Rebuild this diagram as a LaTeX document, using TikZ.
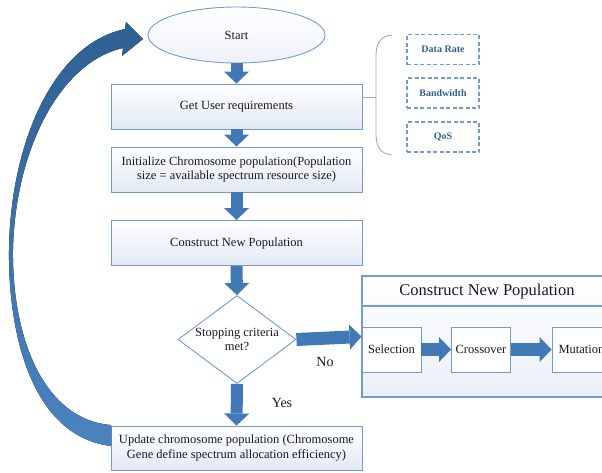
\documentclass[tikz,border=0pt]{standalone}
\usepackage{fontspec}
\setmainfont{Liberation Serif}
\usetikzlibrary{shapes.geometric,arrows.meta}
\definecolor{flowblue}{RGB}{64,121,181}
\definecolor{edgeblue}{RGB}{112,156,208}
\definecolor{paleblue}{RGB}{226,233,244}
\definecolor{tagblue}{RGB}{47,95,145}
\definecolor{bracegray}{RGB}{165,165,165}
\definecolor{loopdark}{RGB}{46,96,146}
\definecolor{looplight}{RGB}{74,132,192}
\definecolor{inktext}{RGB}{25,25,35}
\begin{document}
\begin{tikzpicture}[x=1pt,y=-1pt,
  font=\fontsize{12.5}{14.5}\selectfont, text=inktext,
  proc/.style={draw=edgeblue, line width=0.9pt, top color=white, bottom color=paleblue,
    minimum width=251pt, minimum height=45pt, align=center, inner sep=2pt},
  startell/.style={ellipse, draw=edgeblue, line width=0.9pt, top color=white, bottom color=paleblue!60,
    minimum width=177pt, minimum height=56pt, inner sep=0pt},
  decision/.style={diamond, draw=edgeblue, line width=0.9pt, fill=white,
    minimum width=118pt, minimum height=88pt, inner sep=0pt},
  stage/.style={draw=edgeblue, line width=0.9pt, fill=white,
    minimum width=59pt, minimum height=45pt, inner sep=1pt},
  tag/.style={draw=edgeblue, dash pattern=on 4pt off 2.5pt, line width=1.1pt,
    minimum width=72pt, minimum height=30pt, inner sep=1pt,
    font=\fontsize{10}{12}\selectfont\bfseries, text=tagblue},
  barrow/.style={draw=flowblue, line width=12pt,
    -{Triangle[length=12pt,width=25pt,line width=0pt]}},
  harrow/.style={draw=flowblue, line width=13pt,
    -{Triangle[length=12pt,width=25pt,line width=0pt]}},
  lbl/.style={font=\fontsize{14}{16}\selectfont}]
\useasboundingbox (0,0) rectangle (602,472);
\clip (0,0) rectangle (602,472);

% main flow
\node[startell] (start) at (236.5,35) {Start};
\node[proc] (get) at (236.5,106.5) {Get User requirements};
\node[proc] (init) at (236.5,169.5) {Initialize Chromosome population(Population\\size = available spectrum resource size)};
\node[proc] (cons) at (236.5,243) {Construct New Population};
\node[decision, label={[align=center,font=\fontsize{12.5}{14.5}\selectfont]center:Stopping criteria\\met?}] (dec) at (237,339.5) {};
\node[proc, minimum height=44pt] (upd) at (236.5,448) {Update chromosome population (Chromosome\\Gene define spectrum allocation efficiency)};

% requirement tags with bracket
\node[tag] (rate) at (443,49.5) {Data Rate};
\node[tag] (bw) at (443,93) {Bandwidth};
\node[tag] (qos) at (443,137) {QoS};
\coordinate (brk) at (376,97);
\draw[bracegray, line width=0.8pt] ([yshift=9.5pt]get.east) -- (brk);
\draw[bracegray, line width=0.8pt] (392,35) .. controls (380,36) and (376,44) .. (376,56)
  -- (376,134) .. controls (376,146) and (380,154) .. (392,155);

% construct new population panel
\node[draw=edgeblue, line width=1.1pt, top color=white, bottom color=paleblue!70,
  minimum width=251pt, minimum height=121pt, inner sep=0pt] (panel) at (487.5,336.5) {};
\draw[edgeblue, line width=1.1pt] (362,306) -- (614,306);
\node[font=\fontsize{16.5}{18}\selectfont] (ptitle) at (487,292) {Construct New Population};
\node[stage] (sel) at (391.5,349.5) {Selection};
\node[stage] (cross) at (481,349.5) {Crossover};
\node[stage] (mut) at (581.5,349.5) {Mutation};

% flow arrows
\draw[barrow] (start.south) -- (get.north);
\draw[barrow] (get.south) -- (init.north);
\draw[barrow] (init.south) -- (cons.north);
\draw[barrow] (cons.south) -- (dec.north);
\draw[barrow] (dec.south) -- (upd.north);
\draw[harrow] (dec.east) -- ([yshift=13pt]sel.west);
\draw[harrow] (sel.east) -- (cross.west);
\draw[harrow] (cross.east) -- (mut.west);
\node[lbl] (yes) at (282,403) {Yes};
\node[lbl] (no) at (325,362) {No};

% loop back arrow from update to start
\fill[top color=loopdark, bottom color=looplight]
  (111,446) .. controls (30,436) and (8,330) .. (9,250)
  .. controls (10,150) and (50,45) .. (125,29)
  -- (126,22) -- (143,39) -- (122,56) -- (123,48)
  .. controls (60,62) and (15,150) .. (13,250)
  .. controls (12,340) and (45,420) .. (111,425) -- cycle;
\end{tikzpicture}
\end{document}
